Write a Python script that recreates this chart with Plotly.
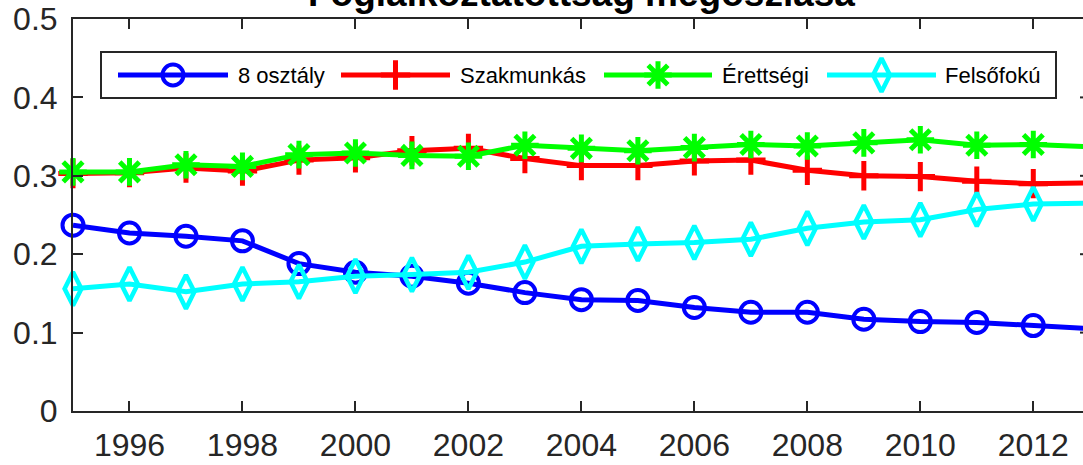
import plotly.graph_objects as go

# Employment share by highest education level
years = list(range(1995, 2014))
osztaly8 = [0.237, 0.227, 0.223, 0.217, 0.188, 0.177, 0.172, 0.163, 0.151, 0.142,
            0.141, 0.132, 0.126, 0.126, 0.117, 0.114, 0.113, 0.109, 0.105]
szakmunkas = [0.303, 0.304, 0.310, 0.306, 0.320, 0.323, 0.332, 0.335, 0.322, 0.313,
              0.313, 0.319, 0.320, 0.307, 0.300, 0.299, 0.293, 0.290, 0.291]
erettsegi = [0.305, 0.305, 0.314, 0.312, 0.327, 0.329, 0.326, 0.325, 0.339, 0.335,
             0.332, 0.336, 0.340, 0.338, 0.342, 0.346, 0.339, 0.340, 0.337]
felsofoku = [0.156, 0.162, 0.152, 0.162, 0.165, 0.172, 0.174, 0.177, 0.190, 0.210,
             0.213, 0.215, 0.219, 0.233, 0.241, 0.244, 0.257, 0.264, 0.265]

series_names = ["8 osztály", "Szakmunkás", "Érettségi", "Felsőfokú"]
series_values = [osztaly8, szakmunkas, erettsegi, felsofoku]

x_ticks = list(range(1996, 2013, 2))
y_ticks = [0, 0.1, 0.2, 0.3, 0.4, 0.5]
y_tick_text = ["0", "0.1", "0.2", "0.3", "0.4", "0.5"]
title_text = "Foglalkoztatottság megoszlása"

W, H = 1083, 465
ML, MR, MT, MB = 73, 0, 19, 54
PLOT_H = H - MT - MB

colors = ["#0000FF", "#FF0000", "#00FF00", "#00FFFF"]
symbols = [
    dict(symbol="circle-open", size=21, width=4),
    dict(symbol="cross-thin-open", size=21, width=5),
    dict(symbol="asterisk-open", size=23, width=5),
    dict(symbol="diamond-tall-open", size=24, width=4.5),
]
FONT = "Liberation Sans, Arial, sans-serif"
AX = "#262626"


def marker_style(sym, col):
    return dict(symbol=sym["symbol"], size=sym["size"], color=col,
                line=dict(width=sym["width"], color=col))


fig = go.Figure()

for name, vals, col, sym in zip(series_names, series_values, colors, symbols):
    fig.add_trace(go.Scatter(
        x=years, y=vals, name=name, mode="lines+markers",
        line=dict(color=col, width=5), marker=marker_style(sym, col),
        cliponaxis=False, showlegend=False,
    ))

# Hand-drawn legend on a pixel-space overlay axis
leg_box = (101, 1056, 52, 98)
leg_y = 75
leg_items = [(118, 228, 236), (341, 450, 458), (604, 712, 720), (827, 936, 943)]

fig.add_shape(type="rect", xref="x2", yref="y2",
              x0=leg_box[0], x1=leg_box[1], y0=leg_box[2], y1=leg_box[3],
              line=dict(color=AX, width=2), fillcolor="white", layer="below")

for (x0, x1, xt), name, col, sym in zip(leg_items, series_names, colors, symbols):
    fig.add_trace(go.Scatter(x=[x0, x1], y=[leg_y, leg_y], mode="lines",
                             line=dict(color=col, width=5), xaxis="x2", yaxis="y2",
                             showlegend=False, hoverinfo="skip"))
    fig.add_trace(go.Scatter(x=[(x0 + x1) / 2], y=[leg_y], mode="markers",
                             marker=marker_style(sym, col), xaxis="x2", yaxis="y2",
                             showlegend=False, hoverinfo="skip"))
    fig.add_annotation(x=xt, y=leg_y, xref="x2", yref="y2", text=name,
                       showarrow=False, xanchor="left", yanchor="middle",
                       font=dict(family=FONT, size=22, color="#000000"))

# Title, partly above the page edge
title_bottom_px = 16
fig.add_annotation(x=581, y=1 + (MT - title_bottom_px) / PLOT_H, xref="x2", yref="paper",
                   text="<b>%s</b>" % title_text,
                   showarrow=False, xanchor="center", yanchor="bottom",
                   font=dict(family=FONT, size=37, color="#000000"))

# Inward tick stubs of the right-hand axis, which lies just past the edge
for yv in y_ticks[1:-1]:
    fig.add_shape(type="line", xref="x2", yref="y", x0=1080, x1=1083, y0=yv, y1=yv,
                  line=dict(color=AX, width=2))

fig.update_layout(
    width=W, height=H,
    margin=dict(l=ML, r=MR, t=MT, b=MB, pad=0, autoexpand=False),
    paper_bgcolor="white", plot_bgcolor="white",
    font=dict(family=FONT, color=AX),
    xaxis=dict(range=[1995, 2012.88], tickvals=x_ticks, ticks="inside", ticklen=10,
               tickwidth=2, tickcolor=AX, showline=True, linewidth=2, linecolor=AX,
               mirror="ticks", showgrid=False, zeroline=False, automargin=False,
               tickfont=dict(family=FONT, size=32, color=AX), ticklabelstandoff=5),
    yaxis=dict(range=[0, 0.5], tickvals=y_ticks, ticktext=y_tick_text, ticks="inside",
               ticklen=10, tickwidth=2, tickcolor=AX, showline=True, linewidth=2,
               linecolor=AX, mirror=False, showgrid=False, zeroline=False,
               automargin=False,
               tickfont=dict(family=FONT, size=32, color=AX), ticklabelstandoff=7),
    xaxis2=dict(overlaying="x", anchor="y2", range=[ML, W], visible=False,
                fixedrange=True),
    yaxis2=dict(overlaying="y", anchor="x2", range=[H - MB, MT], visible=False,
                fixedrange=True),
)

fig.write_html("out.html")
